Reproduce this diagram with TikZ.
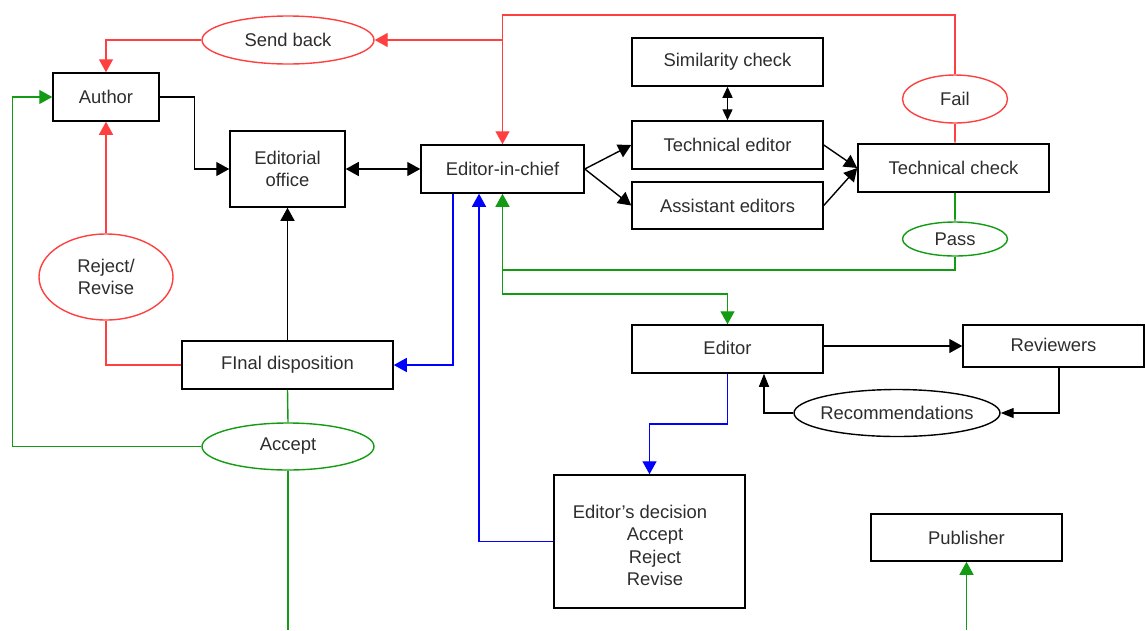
\documentclass[tikz,border=0pt]{standalone}
\usepackage{fontspec}
\setmainfont{Liberation Sans}
\usetikzlibrary{arrows.meta,shapes.geometric}
\definecolor{txt}{RGB}{45,45,45}
\definecolor{rd}{RGB}{255,64,64}
\definecolor{gn}{RGB}{20,155,20}
\definecolor{bl}{RGB}{0,0,255}
\tikzset{
  box/.style={draw=black, line width=1.5pt, rectangle, inner sep=2pt, text=txt, align=center},
  oval/.style={ellipse, line width=1.4pt, inner sep=0pt, text=txt, align=center},
  conn/.style={line width=1.4pt},
  arr/.style={-{Triangle[length=13pt,width=14pt]}},
  darr/.style={{Triangle[length=11pt,width=10pt]}-{Triangle[length=11pt,width=10pt]}},
  dbl/.style={{Triangle[length=13pt,width=14pt]}-{Triangle[length=13pt,width=14pt]}},
  tiny/.style={-{Triangle[length=2pt,width=2pt]}},
  narr/.style={-{Triangle[length=13pt,width=10pt]}},
}
\begin{document}
\begin{tikzpicture}[x=1pt,y=-1pt,font=\fontsize{18.4}{22}\selectfont]
\useasboundingbox (0,0) rectangle (1145,630);
% boxes
\node[box, minimum width=106, minimum height=48] (author) at (106,97) {Author};
\node[box, minimum width=115, minimum height=76] (eo) at (287.5,169) {Editorial\\office};
\node[box, minimum width=163, minimum height=48] (eic) at (502.5,169) {Editor-in-chief};
\node[box, minimum width=191, minimum height=48] (sim) at (727.5,62) {Similarity check};
\node[box, minimum width=191, minimum height=48] (ted) at (727.5,145) {Technical editor};
\node[box, minimum width=191, minimum height=47] (ased) at (727.5,205.5) {Assistant editors};
\node[box, minimum width=191, minimum height=48] (tcheck) at (953.5,168) {Technical check};
\node[box, minimum width=211, minimum height=48] (fd) at (287.5,365) {FInal disposition};
\node[box, minimum width=191, minimum height=48] (editor) at (727.5,349) {\raisebox{2pt}{Editor}};
\node[box, minimum width=181, minimum height=42] (rev) at (1053.5,346) {\raisebox{3pt}{Reviewers}};
\node[box, minimum width=191, minimum height=133, font=\fontsize{18.4}{22.5}\selectfont] (edec) at (649.5,541.5)
  {\rule{0pt}{21pt}Editor’s decision\hspace*{19pt}\\\hspace*{11pt}Accept\\\hspace*{11pt}Reject\\\hspace*{11pt}Revise};
\node[box, minimum width=191, minimum height=47] (pub) at (966.5,537.5) {Publisher};
% ovals
\node[oval, draw=rd, minimum width=172, minimum height=48] (sendback) at (288,40) {Send back};
\node[oval, draw=rd, minimum width=105, minimum height=48] (fail) at (955,99) {Fail};
\node[oval, draw=gn, minimum width=105, minimum height=34] (pass) at (955,239) {Pass};
\node[oval, draw=rd, minimum width=134, minimum height=86] (rr) at (106,277) {Reject/\\Revise};
\node[oval, draw=gn, minimum width=172, minimum height=47] (acc) at (288,446.5) {Accept};
\node[oval, draw=black, minimum width=206, minimum height=47, inner xsep=-12pt] (rec) at (897,413) {Recommendations};
% red connectors
\draw[conn, rd, arr] (sendback.west) -| (author.north);
\draw[conn, rd, arr] (fail.north) |- (eic.north |- 0,15) -- (eic.north);
\draw[conn, rd, arr] (eic.north |- sendback.east) -- (sendback.east);
\draw[conn, rd, tiny] (fail.south) -- (fail.south |- tcheck.north);
\draw[conn, rd] (fd.west) -| (rr.south);
\draw[conn, rd, arr] (rr.north) -- (author.south);
% green connectors
\draw[conn, gn, tiny] (pass.north |- tcheck.south) -- (pass.north);
\draw[conn, gn, arr] (pass.south) -- (pass.south |- 0,270) -| (eic.south);
\draw[conn, gn, arr] (eic.south |- 0,270) -- (eic.south |- 0,294) -| (editor.north);
\draw[conn, gn] (fd.south) -- (acc.north);
\draw[conn, gn, arr] (acc.west) -- ++(-189,0) |- (author.west);
\draw[conn, gn] (acc.south) -- (acc.south |- 0,630);
\draw[conn, gn, arr] (pub.south |- 0,630) -- (pub.south);
% black connectors
\draw[conn, arr] (author.east) -- ++(35,0) |- (eo.west);
\draw[conn, dbl] (eo.east) -- (eic.west);
\draw[conn, arr] (eic.east) -- (ted.west);
\draw[conn, arr] (eic.east) -- (ased.west);
\draw[conn, darr] (sim.south) -- (ted.north);
\draw[conn, arr] (ted.east) -- (tcheck.west);
\draw[conn, arr] (ased.east) -- (tcheck.west);
\draw[conn, arr] (fd.north) -- (eo.south);
\draw[conn, arr] (editor.east |- rev.west) -- (rev.west);
\draw[conn, narr] ([xshift=5.5]rev.south) |- (rec.east);
\draw[conn, narr] (rec.west) -| ([xshift=36.5]editor.south);
% blue connectors
\draw[conn, bl, arr] ([xshift=-49.5]eic.south) |- (fd.east);
\draw[conn, bl, arr] (edec.west) -| ([xshift=-23.5]eic.south);
\draw[conn, bl, arr] (editor.south) |- (edec.north |- 0,424) -- (edec.north);
\end{tikzpicture}
\end{document}
